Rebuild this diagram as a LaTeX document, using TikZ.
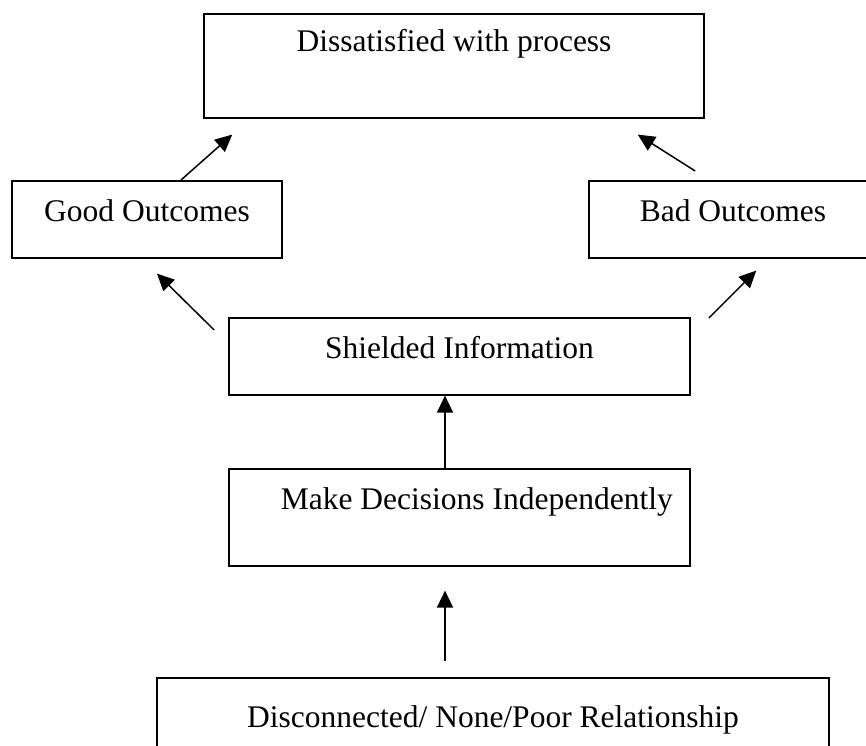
\documentclass[tikz,border=0pt]{standalone}
\usepackage{fontspec}
\setmainfont{Liberation Serif}
\usetikzlibrary{arrows.meta}

\begin{document}
\begin{tikzpicture}[
		x=1pt, y=-1pt,
		line width=1.6pt,
		font=\fontsize{31.5}{36}\selectfont,
		box/.style={draw, rectangle, inner sep=0pt, anchor=north},
		flow/.style={-{Triangle[length=17pt, width=16pt]}, line width=1.5pt}
	]
	\useasboundingbox (0,0) rectangle (866,745);
	\clip (0,0) rectangle (866,745);

	\node[box, minimum width=500pt, text height=38pt, text depth=66pt] (dissat) at (454,13) {Dissatisfied with process};
	\node[box, minimum width=270pt, text height=41pt, text depth=36pt] (good) at (147,180) {Good Outcomes};
	\node[box, minimum width=288pt, text height=41pt, text depth=36pt] (bad) at (733,180) {Bad Outcomes};
	\node[box, minimum width=461pt, text height=41pt, text depth=36pt] (shield) at (459.5,317) {Shielded Information};
	\node[box, minimum width=461pt, text height=41pt, text depth=56pt] (decide) at (459.5,468) {\hspace*{1.1em}Make Decisions Independently};
	\node[box, minimum width=672pt, text height=50pt, text depth=73pt] (relation) at (493,677) {Disconnected/ None/Poor Relationship};

	\draw[flow] ([xshift=34pt]good.north) -- ([xshift=29pt, yshift=-16pt]dissat.south west);
	\draw[flow] ([xshift=107pt, yshift=9pt]bad.north west) -- ([xshift=-67pt, yshift=-16pt]dissat.south east);
	\draw[flow] ([xshift=-14pt, yshift=-13pt]shield.north west) -- ([xshift=10pt, yshift=-15pt]good.south);
	\draw[flow] ([xshift=18pt, yshift=-1pt]shield.north east) -- ([xshift=168pt, yshift=-12pt]bad.south west);
	\draw[flow] ([xshift=-14.5pt]decide.north) -- ([xshift=-14.5pt]shield.south);
	\draw[flow] ([xshift=-48pt, yshift=16pt]relation.north) -- ([xshift=-14.5pt, yshift=-24pt]decide.south);
\end{tikzpicture}
\end{document}
